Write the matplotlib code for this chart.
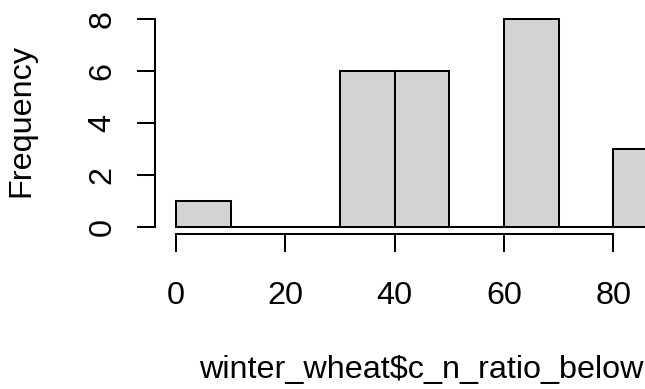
import matplotlib
matplotlib.use("Agg")
import matplotlib.pyplot as plt
import numpy as np

# Data
bin_edges = [0, 10, 20, 30, 40, 50, 60, 70, 80, 90]
counts = [1, 0, 0, 6, 6, 0, 8, 0, 3]
xticks = [0, 20, 40, 60, 80]
yticks = [0, 2, 4, 6, 8]
xlabel = "winter_wheat$c_n_ratio_below"
ylabel = "Frequency"

plt.rcParams['font.family'] = ['Liberation Sans', 'DejaVu Sans']
FS = 23.3
W, H = 645, 389
fig = plt.figure(figsize=(W / 100, H / 100), dpi=100)

# axes region in pixels: data x 0 at 176, y 0 at 227, y 8 at 18.5 (from top)
x0_px, x_right_px = 176, 645
y0_px, y8_px = 227, 18.5
ax = fig.add_axes([x0_px / W, (H - y0_px) / H, (x_right_px - x0_px) / W, (y0_px - y8_px) / H])
px_per_unit = 5.466
ax.set_xlim(0, (x_right_px - x0_px) / px_per_unit)
ax.set_ylim(0, 8)

lefts = np.array(bin_edges[:-1])
widths = np.diff(bin_edges)
ax.bar(lefts, counts, width=widths, align='edge', color='#D3D3D3',
       edgecolor='black', linewidth=1.45, clip_on=False)

for s in ['top', 'right']:
    ax.spines[s].set_visible(False)
ax.spines['left'].set_position(('outward', 15.1))
ax.spines['bottom'].set_position(('outward', 5.0))
ax.spines['left'].set_bounds(0, 8)
ax.spines['bottom'].set_bounds(0, 80)
for s in ['left', 'bottom']:
    ax.spines[s].set_linewidth(1.45)

ax.set_xticks(xticks)
ax.set_yticks(yticks)
ax.tick_params(axis='both', length=13, width=1.45, labelsize=FS, colors='black')
ax.tick_params(axis='x', pad=21)
ax.tick_params(axis='y', pad=14, labelrotation=90)
for lab in ax.get_yticklabels():
    lab.set_va('center')

ax.set_xlabel(xlabel, fontsize=FS)
ax.xaxis.set_label_coords((421.5 - x0_px) / (x_right_px - x0_px), (y0_px - 370) / (y0_px - y8_px))
ax.xaxis.label.set_va('center')
ax.set_ylabel(ylabel, fontsize=FS)
ax.yaxis.set_label_coords((21 - x0_px) / (x_right_px - x0_px), (y0_px - 120) / (y0_px - y8_px))
ax.yaxis.label.set_va('center')

fig.savefig('out.png', dpi=100)
